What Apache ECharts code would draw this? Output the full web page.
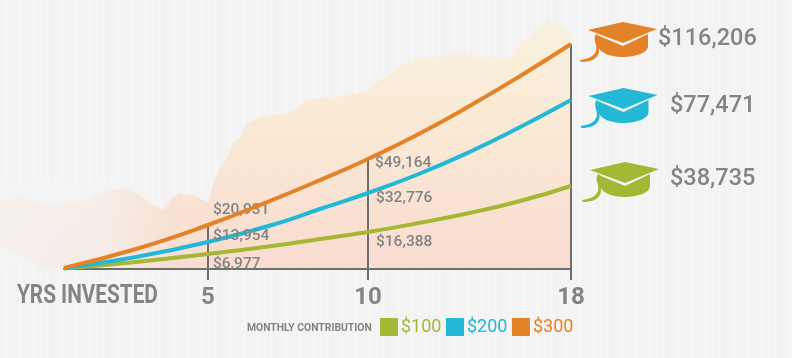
<!DOCTYPE html>
<html>
<head>
<meta charset="utf-8">
<style>
  html, body { margin: 0; padding: 0; background: #f4f4f4; }
  #chart { width: 792px; height: 358px; }
</style>
<script src="https://cdn.jsdelivr.net/npm/echarts@6/dist/echarts.min.js"></script>
</head>
<body>
<div id="chart"></div>
<script>
// years the curves were read at
var years = [0, 2.5, 5, 7, 8.5, 10, 12, 14, 16, 18]
// plotted heights, the artwork is not to scale with its labels
var series300 = [500, 9000, 19800, 31000, 40000, 49500, 60750, 73350, 86850, 101250]
var series200 = [300, 5400, 12150, 19800, 27000, 34200, 42750, 52650, 63900, 76050]
var series100 = [200, 3150, 6750, 10350, 13500, 16650, 20700, 25200, 30600, 37350]

var tickYears = [5, 10, 18]
var labels5 = ['$20,931', '$13,954', '$6,977']
var labels10 = ['$49,164', '$32,776', '$16,388']
var labels18 = ['$116,206', '$77,471', '$38,735']
var legendNames = ['$100', '$200', '$300']

var ORANGE = '#e38226'
var BLUE = '#22b8d6'
var GREEN = '#a5b835'
var AXIS = '#6e6e6e'
var TEXT = '#848484'
var BODY = 'Roboto, sans-serif'

// the time axis is hand drawn: each stretch between ticks has its own width
var knotYears = [0, 5, 10, 18]
var knotPos = [0, 144, 304, 507]
function yearToPos (y) {
  for (var i = 1; i < knotYears.length; i++) {
    if (y <= knotYears[i]) {
      var t = (y - knotYears[i - 1]) / (knotYears[i] - knotYears[i - 1])
      return knotPos[i - 1] + t * (knotPos[i] - knotPos[i - 1])
    }
  }
  return knotPos[knotPos.length - 1]
}
function toPoints (values) {
  return years.map(function (y, i) { return [yearToPos(y), values[i]] })
}
function dropLines () {
  return tickYears.map(function (y) {
    var top = series300[years.indexOf(y)]
    return [{ coord: [yearToPos(y), 0] }, { coord: [yearToPos(y), top] }]
  })
}

// faint vertical paper grain
function paperPattern () {
  var c = document.createElement('canvas')
  c.width = 14
  c.height = 4
  var ctx = c.getContext('2d')
  ctx.fillStyle = '#f4f4f4'
  ctx.fillRect(0, 0, 14, 4)
  ctx.fillStyle = '#f2f2f2'
  ctx.fillRect(2, 0, 1, 4)
  ctx.fillRect(9, 0, 2, 4)
  ctx.fillStyle = '#f6f6f6'
  ctx.fillRect(5, 0, 2, 4)
  return c
}

var washOutline = [
  [0, 200], [20, 198], [50, 205], [90, 200], [110, 190], [130, 188], [150, 203], [163, 210],
  [172, 198], [180, 193], [195, 196], [208, 203], [214, 182], [220, 168], [226, 160], [233, 143],
  [240, 138], [246, 124], [250, 122], [262, 117], [273, 115], [283, 114], [293, 110], [303, 103],
  [313, 99], [330, 97], [350, 95], [367, 90], [380, 80], [390, 75], [400, 66], [417, 58],
  [435, 57], [450, 55], [467, 53], [478, 58], [490, 56], [510, 60], [516, 50], [523, 40],
  [530, 38], [535, 30], [547, 20], [556, 24], [563, 27], [571, 38], [571, 269], [45, 269], [0, 245]
]

// the graphic component only takes registered shapes, so the cap parts are registered here
echarts.graphic.registerShape('capBoard', echarts.graphic.extendPath('M-35,8 L0,0 L34,7 L0,21 Z'))
echarts.graphic.registerShape('capBowl', echarts.graphic.extendPath('M-26,13 L0,24 L25,12 L25,24 C25,31 12,35 0,35 C-14,35 -26,30 -26,20 Z'))
echarts.graphic.registerShape('capTassel', echarts.graphic.extendPath('M-27,12 C-31,18 -25,22 -27,29 C-29,35 -36,37 -43,38 L-42,40 C-34,40 -26,38 -24,30 C-23,23 -28,18 -25,13 Z'))

function capElement (color, left, top) {
  return {
    type: 'group',
    x: left,
    y: top,
    z: 5,
    children: [
      { type: 'capBoard', style: { fill: color } },
      { type: 'capBowl', style: { fill: color } },
      { type: 'capTassel', style: { fill: color } }
    ]
  }
}
function noteText (text, x, y, size, weight, stretch) {
  return {
    type: 'text',
    x: x,
    y: y,
    z: 6,
    scaleX: stretch || 1,
    style: {
      text: text,
      fill: TEXT,
      font: (weight || '500') + ' ' + size + 'px ' + BODY,
      verticalAlign: 'middle'
    }
  }
}

var chart = echarts.init(document.getElementById('chart'), null, { renderer: 'canvas' })
chart.setOption({
  animation: false,
  grid: { left: 64, top: 19, width: 507, height: 250 },
  xAxis: {
    type: 'value',
    min: 0,
    max: 507,
    splitLine: { show: false },
    axisLine: { show: true, onZero: false, lineStyle: { color: AXIS, width: 2 } },
    axisTick: {
      show: true,
      customValues: tickYears.map(yearToPos),
      length: 11,
      lineStyle: { color: AXIS, width: 2 }
    },
    axisLabel: {
      customValues: tickYears.map(yearToPos),
      margin: 17,
      color: TEXT,
      fontFamily: BODY,
      fontWeight: 'bold',
      fontSize: 24,
      formatter: function (v) {
        return tickYears[tickYears.map(yearToPos).indexOf(v)]
      }
    }
  },
  yAxis: { type: 'value', min: 0, max: 112500, show: false },
  legend: {
    data: legendNames,
    left: 380,
    top: 318,
    padding: 0,
    icon: 'rect',
    itemWidth: 18,
    itemHeight: 18,
    itemGap: 4.5,
    selectedMode: false,
    textStyle: {
      color: 'inherit',
      fontFamily: BODY,
      fontSize: 18,
      padding: [0, 0, 0, -2]
    }
  },
  graphic: [
    { type: 'rect', z: -10, shape: { x: 0, y: 0, width: 792, height: 358 }, style: { fill: { image: paperPattern(), repeat: 'repeat' } } },
    {
      type: 'polygon',
      z: -9,
      shape: { points: washOutline },
      style: {
        opacity: 0.85,
        fill: new echarts.graphic.LinearGradient(0, 0, 0, 1, [
          { offset: 0, color: '#f9f1da' },
          { offset: 0.45, color: '#fbe7cf' },
          { offset: 1, color: '#f9d8ca' }
        ])
      }
    },
    {
      type: 'rect',
      z: -8,
      shape: { x: 0, y: 180, width: 175, height: 89 },
      style: {
        fill: new echarts.graphic.LinearGradient(0, 0, 1, 0, [
          { offset: 0, color: 'rgba(244,244,244,0.78)' },
          { offset: 0.6, color: 'rgba(244,244,244,0.62)' },
          { offset: 1, color: 'rgba(244,244,244,0)' }
        ])
      }
    },
    capElement(ORANGE, 623, 22),
    capElement(BLUE, 623.5, 88),
    capElement(GREEN, 625, 162),
    noteText(labels5[0], 213, 210, 15.5),
    noteText(labels5[1], 213, 236, 15.5),
    noteText(labels5[2], 213, 264, 15.5),
    noteText(labels10[0], 375, 163, 15.5),
    noteText(labels10[1], 376, 198, 15.5),
    noteText(labels10[2], 376, 242, 15.5),
    noteText(labels18[0], 658, 39.5, 23.5),
    noteText(labels18[1], 670, 106.5, 23.5),
    noteText(labels18[2], 670, 179.5, 23.5),
    noteText('YRS INVESTED', 17, 297, 25, 'bold', 0.83),
    noteText('MONTHLY CONTRIBUTION', 247, 328, 11.5, 'bold', 0.9)
  ],
  series: [
    {
      name: '$100',
      type: 'line',
      smooth: true,
      symbol: 'none',
      z: 4,
      itemStyle: { color: GREEN },
      lineStyle: { color: GREEN, width: 4 },
      data: toPoints(series100)
    },
    {
      name: '$200',
      type: 'line',
      smooth: true,
      symbol: 'none',
      z: 5,
      itemStyle: { color: BLUE },
      lineStyle: { color: BLUE, width: 4 },
      data: toPoints(series200)
    },
    {
      name: '$300',
      type: 'line',
      smooth: true,
      symbol: 'none',
      z: 6,
      itemStyle: { color: ORANGE },
      lineStyle: { color: ORANGE, width: 4 },
      markLine: {
        silent: true,
        symbol: 'none',
        z: 1,
        label: { show: false },
        lineStyle: { color: AXIS, width: 2, type: 'solid' },
        data: dropLines()
      },
      data: toPoints(series300)
    }
  ]
})
</script>
</body>
</html>
